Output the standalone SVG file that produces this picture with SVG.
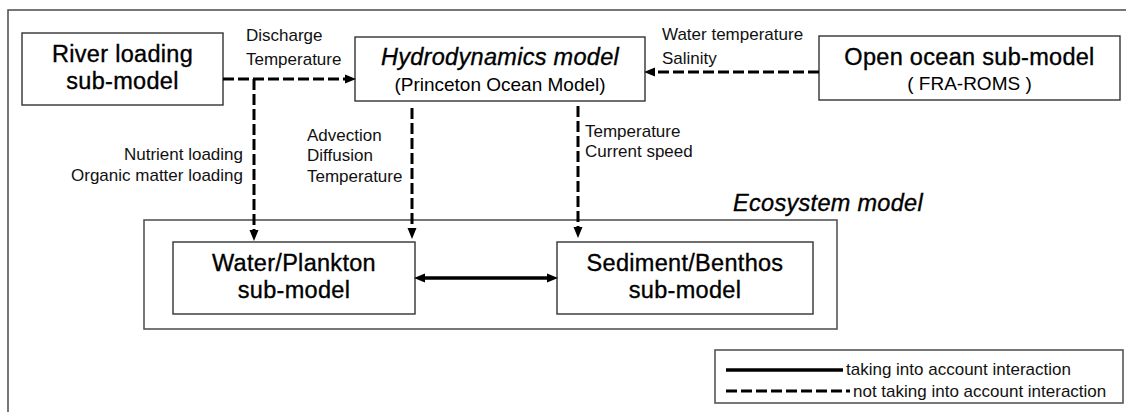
<svg xmlns="http://www.w3.org/2000/svg" width="1126" height="412" viewBox="0 0 1126 412">
<style>
.box{fill:#fff;stroke:#333;stroke-width:1.4}
.frame{fill:none;stroke:#555;stroke-width:1.6}
.big{font-family:"Liberation Sans",Arial,sans-serif;font-size:23.5px;letter-spacing:0.3px;fill:#000;stroke:#000;stroke-width:0.35;text-anchor:middle}
.it{font-style:italic}
.sub{font-family:"Liberation Sans",Arial,sans-serif;font-size:19px;fill:#000;text-anchor:middle}
.lbl{font-family:"Liberation Sans",Arial,sans-serif;font-size:17px;fill:#111}
.dash{fill:none;stroke:#000;stroke-width:3;stroke-dasharray:11 4}
.solid{fill:none;stroke:#000;stroke-width:3.5}
</style>
<defs>
<marker id="ah" markerUnits="userSpaceOnUse" markerWidth="12" markerHeight="10" viewBox="0 0 12 10" refX="4" refY="5" orient="auto-start-reverse">
<path d="M0,0.5 L11,5 L0,9.5 z" fill="#000"/>
</marker>
</defs>
<rect width="1126" height="412" fill="#fff"/>
<rect class="frame" x="8" y="10" width="1130" height="420" stroke="#222"/>

<g id="ecosystem">
<rect class="frame" x="144" y="220" width="693" height="109"/>
<text class="big it" x="828" y="211">Ecosystem model</text>
</g>

<g id="river">
<rect class="box" x="22" y="33" width="201" height="72"/>
<text class="big" x="122.5" y="62">River loading</text>
<text class="big" x="122.5" y="88.5">sub-model</text>
</g>

<g id="hydro">
<rect class="box" x="355" y="37" width="290" height="64"/>
<text class="big it" x="500" y="65">Hydrodynamics model</text>
<text class="sub" x="500" y="91">(Princeton Ocean Model)</text>
</g>

<g id="ocean">
<rect class="box" x="819" y="36" width="301" height="64"/>
<text class="big" x="969.5" y="65">Open ocean sub-model</text>
<text class="sub" x="969.5" y="90">( FRA-ROMS )</text>
</g>

<g id="water">
<rect class="box" x="173" y="242" width="242" height="72"/>
<text class="big" x="294" y="271">Water/Plankton</text>
<text class="big" x="294" y="297.5">sub-model</text>
</g>

<g id="sediment">
<rect class="box" x="557" y="242" width="256" height="72"/>
<text class="big" x="685" y="271">Sediment/Benthos</text>
<text class="big" x="685" y="297.5">sub-model</text>
</g>

<g id="connectors">
<line class="dash" x1="223" y1="79" x2="349" y2="79" marker-end="url(#ah)"/>
<line class="dash" x1="819" y1="72" x2="651" y2="72" marker-end="url(#ah)"/>
<line class="dash" x1="254" y1="79" x2="254" y2="234" marker-end="url(#ah)"/>
<line class="dash" x1="412" y1="108" x2="412" y2="232" marker-end="url(#ah)"/>
<line class="dash" x1="578" y1="106" x2="578" y2="231" marker-end="url(#ah)"/>
<line class="solid" x1="421" y1="278" x2="551" y2="278" marker-start="url(#ah)" marker-end="url(#ah)"/>
</g>

<g id="labels">
<text class="lbl" x="246" y="41">Discharge</text>
<text class="lbl" x="246" y="65">Temperature</text>
<text class="lbl" x="662" y="40">Water temperature</text>
<text class="lbl" x="662" y="64">Salinity</text>
<text class="lbl" x="243" y="160" text-anchor="end">Nutrient loading</text>
<text class="lbl" x="243" y="181" text-anchor="end">Organic matter loading</text>
<text class="lbl" x="307" y="141">Advection</text>
<text class="lbl" x="307" y="161">Diffusion</text>
<text class="lbl" x="307" y="182">Temperature</text>
<text class="lbl" x="585" y="137">Temperature</text>
<text class="lbl" x="585" y="157">Current speed</text>
</g>

<g id="legend">
<rect class="frame" x="715" y="350" width="408" height="53"/>
<line class="solid" x1="726" y1="370" x2="843" y2="370" stroke-width="4"/>
<text class="lbl" x="846" y="375">taking into account interaction</text>
<line class="dash" x1="726" y1="391" x2="850" y2="391"/>
<text class="lbl" x="853" y="397">not taking into account interaction</text>
</g>
</svg>
